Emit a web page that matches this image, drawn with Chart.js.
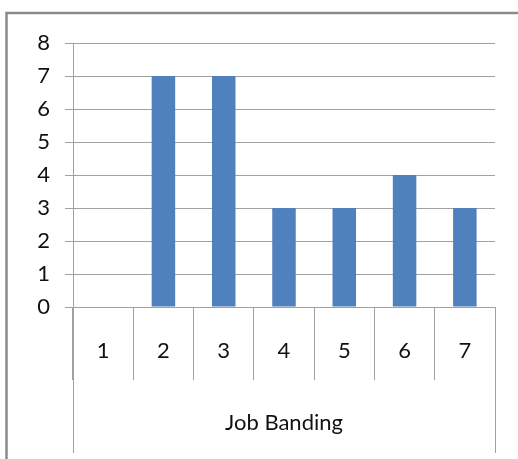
<!DOCTYPE html>
<html>
<head>
<meta charset="utf-8">
<script src="https://cdn.jsdelivr.net/npm/chart.js@4.4.1/dist/chart.umd.min.js"></script>
<style>
html,body{margin:0;padding:0;background:#fff;}
canvas{display:block;}
</style>
</head>
<body>
<canvas id="c" width="518" height="459"></canvas>
<script>
const categories = ['1', '2', '3', '4', '5', '6', '7'];
const values = [0, 7, 7, 3, 3, 4, 3];
const yMin = 0;
const yMax = 8;
const yStep = 1;
const axisTitle = 'Job Banding';

const GRID = '#a0a0a0';
const FONT = {family: 'Lato', size: 22};

const framePlugin = {
  id: 'frame',
  beforeDraw(chart) {
    const ctx = chart.ctx;
    ctx.save();
    ctx.fillStyle = '#fff';
    ctx.fillRect(0, 0, chart.width, chart.height);
    ctx.strokeStyle = '#8a8a8a';
    ctx.lineWidth = 2.5;
    ctx.beginPath();
    ctx.moveTo(6.5, chart.height);
    ctx.lineTo(6.5, 13);
    ctx.lineTo(chart.width, 13);
    ctx.stroke();
    ctx.restore();
  },
  afterDraw(chart) {
    const x = chart.scales.x;
    const ctx = chart.ctx;
    ctx.save();
    ctx.strokeStyle = GRID;
    ctx.lineWidth = 1;
    ctx.beginPath();
    [x.left, x.right].forEach(px => {
      const p = Math.round(px) + 0.5;
      ctx.moveTo(p, x.top);
      ctx.lineTo(p, x.top + 146);
    });
    ctx.stroke();
    ctx.restore();
  }
};

new Chart(document.getElementById('c'), {
  type: 'bar',
  data: {
    labels: categories,
    datasets: [{
      data: values,
      backgroundColor: '#4F81BD',
      borderWidth: 0,
      barPercentage: 0.39,
      categoryPercentage: 1.0
    }]
  },
  options: {
    responsive: false,
    animation: false,
    layout: {padding: {top: 43, right: 23, bottom: 0, left: 0}},
    plugins: {legend: {display: false}, tooltip: {enabled: false}},
    scales: {
      x: {
        offset: true,
        grid: {display: true, offset: true, drawOnChartArea: false, drawTicks: true, tickLength: 73, color: GRID, lineWidth: 1},
        border: {display: true, color: GRID, width: 1},
        ticks: {font: FONT, color: '#111', padding: -42, maxRotation: 0, autoSkip: false},
        title: {display: true, text: axisTitle, font: FONT, color: '#111', padding: {top: 0, bottom: 23}},
        afterFit(scale) { scale.height = 152; }
      },
      y: {
        min: yMin,
        max: yMax,
        grid: {color: GRID, lineWidth: 1, drawTicks: true, tickLength: 8},
        border: {display: true, color: GRID, width: 1},
        ticks: {stepSize: yStep, font: FONT, color: '#111', padding: 15},
        afterFit(scale) { scale.width = 73; }
      }
    }
  },
  plugins: [framePlugin]
});
</script>
</body>
</html>
